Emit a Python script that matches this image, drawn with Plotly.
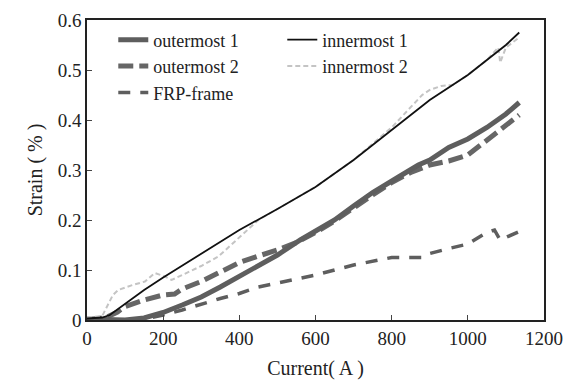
import plotly.graph_objects as go

# Current (A) and strain (%)
outer1_x = [0, 50, 100, 150, 200, 250, 300, 350, 400, 450, 500, 560, 600, 650, 700, 750, 820, 870, 900, 950, 1000, 1050, 1100, 1135]
outer1_y = [0.002, 0.0, 0.0, 0.004, 0.015, 0.03, 0.046, 0.066, 0.087, 0.108, 0.13, 0.16, 0.178, 0.2, 0.228, 0.255, 0.287, 0.31, 0.32, 0.345, 0.362, 0.385, 0.412, 0.435]

outer2_x = [0, 50, 80, 100, 150, 200, 230, 250, 300, 350, 400, 450, 500, 550, 600, 650, 700, 750, 800, 850, 900, 950, 1000, 1050, 1100, 1135]
outer2_y = [0.0, 0.005, 0.016, 0.027, 0.04, 0.05, 0.052, 0.062, 0.077, 0.095, 0.115, 0.128, 0.14, 0.155, 0.175, 0.198, 0.225, 0.25, 0.275, 0.295, 0.31, 0.318, 0.33, 0.36, 0.39, 0.41]

inner1_x = [0, 40, 60, 100, 150, 200, 300, 400, 500, 600, 700, 800, 900, 1000, 1100, 1135]
inner1_y = [0.003, 0.005, 0.01, 0.033, 0.06, 0.085, 0.133, 0.18, 0.222, 0.266, 0.32, 0.38, 0.44, 0.49, 0.55, 0.575]

inner2_x = [0, 40, 68, 82, 120, 152, 178, 205, 222, 257, 300, 345, 401, 450, 500, 600, 700, 800, 880, 900, 930, 960, 1000, 1050, 1080, 1085, 1100, 1135]
inner2_y = [0.005, 0.008, 0.05, 0.06, 0.07, 0.077, 0.094, 0.087, 0.08, 0.093, 0.108, 0.127, 0.165, 0.2, 0.222, 0.266, 0.32, 0.385, 0.45, 0.46, 0.468, 0.47, 0.49, 0.52, 0.545, 0.515, 0.545, 0.565]

frp_x = [0, 100, 150, 200, 250, 300, 350, 400, 450, 500, 600, 700, 800, 880, 900, 950, 1000, 1050, 1070, 1085, 1100, 1135]
frp_y = [0.0, 0.0, 0.002, 0.01, 0.02, 0.032, 0.043, 0.053, 0.066, 0.074, 0.09, 0.11, 0.125, 0.125, 0.133, 0.143, 0.152, 0.175, 0.18, 0.16, 0.165, 0.177]

x_ticks = [0, 200, 400, 600, 800, 1000, 1200]
y_ticks = [0, 0.1, 0.2, 0.3, 0.4, 0.5, 0.6]

FONT = "Liberation Serif, DejaVu Serif, serif"

fig = go.Figure()
fig.add_trace(go.Scatter(x=frp_x, y=frp_y, mode="lines", name="FRP-frame", legendrank=5,
                         line=dict(color="#5e5e5e", width=3.5, dash="12px,10px")))
fig.add_trace(go.Scatter(x=outer2_x, y=outer2_y, mode="lines", name="outermost 2", legendrank=3,
                         line=dict(color="#666666", width=5, dash="15px,6px")))
fig.add_trace(go.Scatter(x=outer1_x, y=outer1_y, mode="lines", name="outermost 1", legendrank=1,
                         line=dict(color="#5e5e5e", width=5)))
fig.add_trace(go.Scatter(x=inner2_x, y=inner2_y, mode="lines", name="innermost 2", legendrank=4,
                         line=dict(color="#c4c4c4", width=2, dash="5px,3px")))
fig.add_trace(go.Scatter(x=inner1_x, y=inner1_y, mode="lines", name="innermost 1", legendrank=2,
                         line=dict(color="#111111", width=1.8)))

fig.update_layout(
    width=565, height=380,
    margin=dict(l=87, r=21, t=20, b=60, autoexpand=False),
    paper_bgcolor="white", plot_bgcolor="white",
    font=dict(family=FONT, size=19, color="#222222"),
    showlegend=True,
    legend=dict(orientation="h", x=0.0575, y=0.995, xanchor="left", yanchor="top",
                entrywidth=124, itemwidth=30, bgcolor="rgba(0,0,0,0)",
                font=dict(family=FONT, size=18, color="#222222")),
    xaxis=dict(range=[0, 1200], tickvals=x_ticks, ticks="inside", ticklen=5,
               showline=True, linecolor="#222222", linewidth=1.5, mirror=True,
               showgrid=False, zeroline=False, automargin=False,
               title=dict(text="Current( A )", standoff=14, font=dict(size=20))),
    yaxis=dict(range=[0, 0.6], tickvals=y_ticks, ticks="inside", ticklen=5,
               showline=True, linecolor="#222222", linewidth=1.5, mirror=True,
               showgrid=False, zeroline=False, automargin=False,
               title=dict(text="Strain ( % )", standoff=10, font=dict(size=20))),
)

fig.write_html("out.html", config={"displayModeBar": False},
               post_script="document.body.style.margin='0';document.body.style.overflow='hidden';")
